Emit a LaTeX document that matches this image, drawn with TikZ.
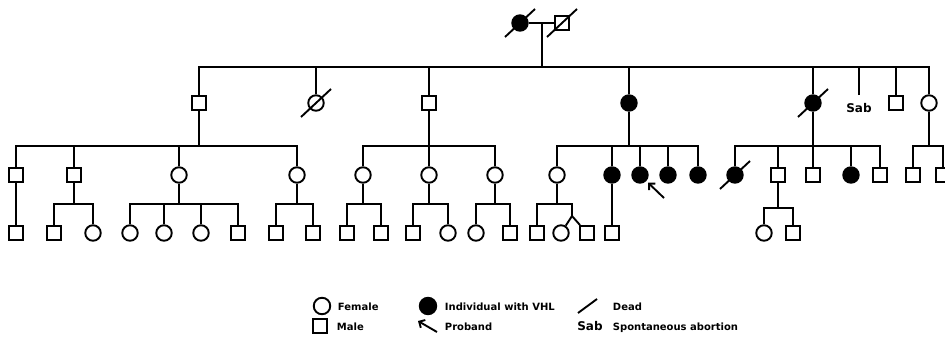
\documentclass[tikz,border=0pt]{standalone}
\usepackage{fontspec}
\setmainfont{DejaVu Sans}
\usetikzlibrary{arrows.meta}
\newcommand{\deadmk}[1]{\draw ([shift={(-15,14)}]#1.center) -- ([shift={(15,-14)}]#1.center);}
\begin{document}
\begin{tikzpicture}[x=1pt,y=-1pt,line width=1.9pt,
  fem/.style={circle,draw,minimum size=15.5pt,inner sep=0pt},
  mal/.style={rectangle,draw,minimum size=14pt,inner sep=0pt},
  aff/.style={fill=black},
  lbl/.style={font=\bfseries\fontsize{10}{12}\selectfont,anchor=base west,inner sep=0pt},
  sabtxt/.style={font=\bfseries\fontsize{12}{14}\selectfont,anchor=base,inner sep=0pt},
  pb/.style={-{Straight Barb[length=4.5pt,width=9pt]},shorten >=2.5pt}]
\useasboundingbox (0,0) rectangle (945,348);

% Generation I
\node[fem,aff] (I1) at (520,23) {};
\node[mal] (I2) at (562,23) {};
\deadmk{I1}\deadmk{I2}
\draw (I1) -- (I2);
\coordinate (m1) at (542,23);
\coordinate (g1) at (542,67);
\draw (m1) -- (g1);

% Generation II
\node[mal] (II1) at (199,103) {};
\node[fem] (II2) at (316,103) {};
\node[mal] (II3) at (429,103) {};
\node[fem,aff] (II4) at (629,103) {};
\node[fem,aff] (II5) at (813,103) {};
\coordinate (sabend) at (859,95);
\node[sabtxt] (sab) at (859,112) {Sab};
\node[mal] (II6) at (896,103) {};
\node[fem] (II7) at (929,103) {};
\deadmk{II2}\deadmk{II5}
\foreach \n in {II1,II2,II3,II4,II5,sabend,II6,II7} \draw (\n) |- (g1);

% Generation III
\coordinate (b1) at (199,146);
\coordinate (b3) at (429,146);
\coordinate (b4) at (629,146);
\coordinate (b5) at (813,146);
\coordinate (b7) at (929,146);
\draw (II1) -- (b1);
\draw (II3) -- (b3);
\draw (II4) -- (b4);
\draw (II5) -- (b5);
\draw (II7) -- (b7);

\node[mal] (III1) at (16,175) {};
\node[mal] (III2) at (74,175) {};
\node[fem] (III3) at (179,175) {};
\node[fem] (III4) at (297,175) {};
\foreach \n in {III1,III2,III3,III4} \draw (\n) |- (b1);

\node[fem] (III5) at (363,175) {};
\node[fem] (III6) at (429,175) {};
\node[fem] (III7) at (495,175) {};
\foreach \n in {III5,III6,III7} \draw (\n) |- (b3);

\node[fem] (III8) at (557,175) {};
\node[fem,aff] (III9) at (612,175) {};
\node[fem,aff] (III10) at (640,175) {};
\node[fem,aff] (III11) at (668,175) {};
\node[fem,aff] (III12) at (698,175) {};
\foreach \n in {III8,III9,III10,III11,III12} \draw (\n) |- (b4);
\coordinate (pbtail) at (664,198);
\draw[pb] (pbtail) -- (III10);

\node[fem,aff] (III13) at (735,175) {};
\node[mal] (III14) at (778,175) {};
\node[mal] (III15) at (813,175) {};
\node[fem,aff] (III16) at (851,175) {};
\node[mal] (III17) at (880,175) {};
\deadmk{III13}
\foreach \n in {III13,III14,III15,III16,III17} \draw (\n) |- (b5);

\node[mal] (III18) at (913,175) {};
\node[mal] (III19) at (943,175) {};
\foreach \n in {III18,III19} \draw (\n) |- (b7);

% Generation IV
\coordinate (c2) at (74,204);
\coordinate (c3) at (179,204);
\coordinate (c4) at (297,204);
\coordinate (c5) at (363,204);
\coordinate (c6) at (429,204);
\coordinate (c7) at (495,204);
\coordinate (c8) at (557,204);
\coordinate (c14) at (778,208);
\foreach \p/\c in {III2/c2,III3/c3,III4/c4,III5/c5,III6/c6,III7/c7,III8/c8,III14/c14} \draw (\p) -- (\c);

\node[mal] (IV1) at (16,233) {};
\draw (III1) -- (IV1);

\node[mal] (IV2) at (54,233) {};
\node[fem] (IV3) at (93,233) {};
\foreach \n in {IV2,IV3} \draw (\n) |- (c2);

\node[fem] (IV4) at (130,233) {};
\node[fem] (IV5) at (164,233) {};
\node[fem] (IV6) at (201,233) {};
\node[mal] (IV7) at (238,233) {};
\foreach \n in {IV4,IV5,IV6,IV7} \draw (\n) |- (c3);

\node[mal] (IV8) at (276,233) {};
\node[mal] (IV9) at (313,233) {};
\foreach \n in {IV8,IV9} \draw (\n) |- (c4);

\node[mal] (IV10) at (347,233) {};
\node[mal] (IV11) at (381,233) {};
\foreach \n in {IV10,IV11} \draw (\n) |- (c5);

\node[mal] (IV12) at (413,233) {};
\node[fem] (IV13) at (448,233) {};
\foreach \n in {IV12,IV13} \draw (\n) |- (c6);

\node[fem] (IV14) at (476,233) {};
\node[mal] (IV15) at (510,233) {};
\foreach \n in {IV14,IV15} \draw (\n) |- (c7);

\node[mal] (IV16) at (537,233) {};
\node[fem] (IV17) at (561,233) {};
\node[mal] (IV18) at (587,233) {};
\coordinate (tw) at (572,216);
\draw (IV16) |- (c8);
\draw (tw) |- (c8);
\draw (tw) -- (IV17);
\draw (tw) -- (IV18);

\node[mal] (IV19) at (612,233) {};
\draw (III9) -- (IV19);

\node[fem] (IV20) at (764,233) {};
\node[mal] (IV21) at (793,233) {};
\foreach \n in {IV20,IV21} \draw (\n) |- (c14);

% Legend
\node[fem,minimum size=16.5pt] (lf) at (322,306) {};
\node[lbl] (lft) at (337,310) {Female};
\node[fem,aff,minimum size=16.5pt] (la) at (428,306) {};
\node[lbl] (lat) at (444,310) {Individual with VHL};
\coordinate (ld1) at (578,313);
\coordinate (ld2) at (597,299);
\draw (ld1) -- (ld2);
\node[lbl] (ldt) at (612,310) {Dead};
\node[mal] (lm) at (320,326) {};
\node[lbl] (lmt) at (336,330) {Male};
\coordinate (lp1) at (437,332);
\coordinate (lp2) at (418,321);
\draw[-{Straight Barb[length=4.5pt,width=9pt]}] (lp1) -- (lp2);
\node[lbl] (lpt) at (444,330) {Proband};
\node[sabtxt] (ls) at (590,330) {Sab};
\node[lbl] (lst) at (612,330) {Spontaneous abortion};
\end{tikzpicture}
\end{document}
